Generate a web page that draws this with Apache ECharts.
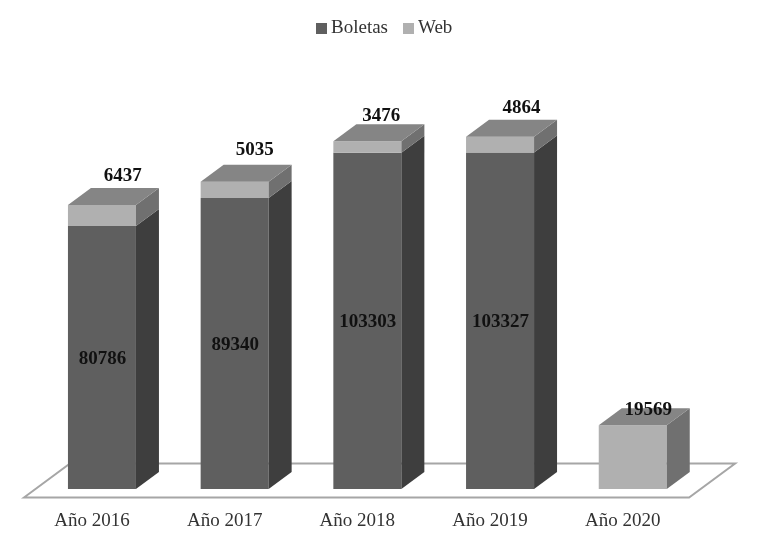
<!DOCTYPE html>
<html>
<head>
<meta charset="utf-8">
<style>html,body{margin:0;padding:0;background:#fff}#chart{width:763px;height:545px}</style>
<script src="https://cdn.jsdelivr.net/npm/echarts@6/dist/echarts.min.js"></script>
</head>
<body>
<div id="chart"></div>
<script>
const categories = ["Año 2016", "Año 2017", "Año 2018", "Año 2019", "Año 2020"];
const boletas = [80786, 89340, 103303, 103327, 0];
const web = [6437, 5035, 3476, 4864, 19569];

// hand placed labels in the original, [dx, dy] from top centre of front face
const webLabelOffset = [[20.7, -29], [20, -32], [14, -25], [21.5, -29], [15.5, -15]];

const FONT = '"Liberation Serif", serif';
const DX = 23, DY = 17; // 3d depth
const chart = echarts.init(document.getElementById("chart"));

function box(api, colors, labelFn) {
  const idx = api.value(0);
  const p0 = api.coord([idx, api.value(1)]);
  const p1 = api.coord([idx, api.value(2)]);
  const w = 68;
  const x0 = p0[0] - w / 2, x1 = p0[0] + w / 2;
  const yb = p0[1], yt = p1[1];
  const kids = [];
  if (yb - yt > 0.1) {
    kids.push({ type: "rect", shape: { x: x0, y: yt, width: w, height: yb - yt }, style: { fill: colors.front } });
    kids.push({ type: "polygon", shape: { points: [[x1, yb], [x1 + DX, yb - DY], [x1 + DX, yt - DY], [x1, yt]] }, style: { fill: colors.side } });
    if (colors.top) {
      kids.push({ type: "polygon", shape: { points: [[x0, yt], [x0 + DX, yt - DY], [x1 + DX, yt - DY], [x1, yt]] }, style: { fill: colors.top } });
    }
    kids.push(labelFn(idx, p0[0], yb, yt));
  }
  return { type: "group", children: kids };
}

function labelText(text, x, y) {
  return {
    type: "text",
    z2: 10,
    style: { text: text, x: x, y: y, align: "center", verticalAlign: "middle", font: 'bold 19px ' + FONT, fill: "#111" }
  };
}

chart.setOption({
  animation: false,
  legend: {
    data: ["Boletas", "Web"],
    icon: "rect",
    top: 14,
    left: 311,
    itemWidth: 11,
    itemHeight: 11,
    itemGap: 15,
    textStyle: { fontFamily: FONT, fontSize: 19, color: "#333", padding: [0, 0, 0, -1] }
  },
  grid: { left: 35.6, width: 663.5, top: 98.3, height: 390.7 },
  xAxis: {
    type: "category",
    data: categories,
    axisLine: { show: false },
    axisTick: { show: false },
    axisLabel: { margin: 23, fontFamily: FONT, fontSize: 19, color: "#333", padding: [0, 20, 0, 0] }
  },
  yAxis: { type: "value", min: 0, max: 120000, show: false },
  series: [
    {
      type: "custom",
      silent: true,
      coordinateSystem: "cartesian2d",
      data: [[0, 0]],
      renderItem: function (params, api) {
        const a = api.coord([0, 0]);
        const bw = api.size([1, 0])[0];
        const left = a[0] - bw / 2, right = left + 5 * bw, y = a[1];
        return {
          type: "polygon",
          shape: { points: [[left - 11.6, y + 8.5], [left + 34.4, y - 25.5], [right + 36, y - 25.5], [right - 10, y + 8.5]] },
          style: { fill: "#fff", stroke: "#a6a6a6", lineWidth: 2 }
        };
      }
    },
    {
      name: "Boletas",
      type: "custom",
      silent: true,
      itemStyle: { color: "#5f5f5f" },
      encode: { x: 0, y: [1, 2] },
      data: boletas.map((v, i) => [i, 0, v]),
      renderItem: function (params, api) {
        return box(api, { front: "#5f5f5f", side: "#3e3e3e" }, function (idx, cx, yb, yt) {
          return labelText(String(boletas[idx]), cx + 0.5, (yb + yt) / 2 + 1.5);
        });
      }
    },
    {
      name: "Web",
      type: "custom",
      silent: true,
      itemStyle: { color: "#b0b0b0" },
      encode: { x: 0, y: [1, 2] },
      data: web.map((v, i) => [i, boletas[i], boletas[i] + v]),
      renderItem: function (params, api) {
        return box(api, { front: "#b0b0b0", side: "#707070", top: "#858585" }, function (idx, cx, yb, yt) {
          const off = webLabelOffset[idx];
          return labelText(String(web[idx]), cx + off[0], yt + off[1]);
        });
      }
    }
  ]
});
</script>
</body>
</html>
